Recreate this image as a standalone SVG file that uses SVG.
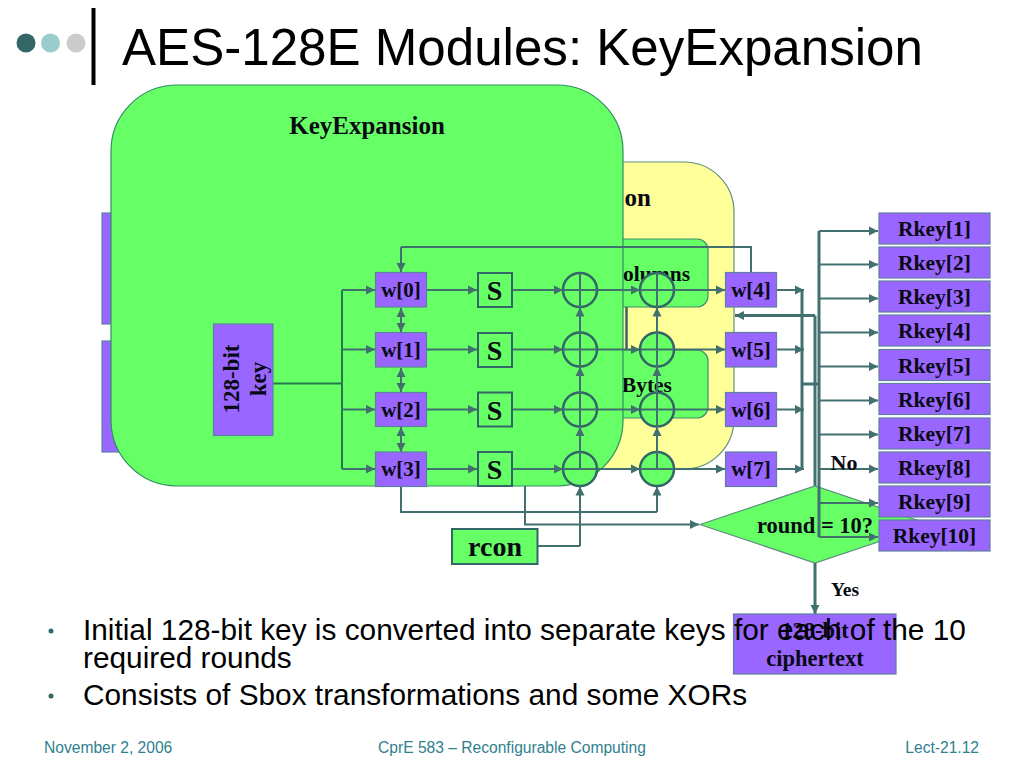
<svg xmlns="http://www.w3.org/2000/svg" width="1024" height="768" viewBox="0 0 1024 768">
<style>
text{font-family:"Liberation Serif","Times New Roman",serif;font-weight:bold;fill:#0a0a14;text-anchor:middle}
.s{font-family:"Liberation Sans",Arial,sans-serif;font-weight:normal;text-anchor:start;fill:#000}
.f{font-family:"Liberation Sans",Arial,sans-serif;font-weight:normal;font-size:15.600px;fill:#2f7f8f;text-anchor:start}
.p{fill:#9966ff;stroke:#5f7f9f;stroke-width:1.2}
.g{fill:#66ff66;stroke:#336666;stroke-width:2}
.l{fill:none;stroke:#41706f;stroke-width:2}
.t{fill:none;stroke:#41706f;stroke-width:3}
.a{marker-end:url(#ah)}
.b{marker-start:url(#ahs);marker-end:url(#ah)}
.k{font-size:21px}
.r{font-size:21.500px}
.m{font-size:22.500px}
</style>
<defs>
<marker id="ah" markerUnits="userSpaceOnUse" markerWidth="10" markerHeight="10" refX="9" refY="5" orient="auto"><path d="M0 .5L9 5L0 9.5z" fill="#41706f"/></marker>
<marker id="ahs" markerUnits="userSpaceOnUse" markerWidth="10" markerHeight="10" refX="9" refY="5" orient="auto-start-reverse"><path d="M0 .5L9 5L0 9.5z" fill="#41706f"/></marker>
</defs>
<g id="template">
<circle cx="26" cy="43" r="9.5" fill="#336666"/>
<circle cx="50.500" cy="43" r="9.500" fill="#99cccc"/>
<circle cx="76" cy="43" r="9.500" fill="#cccccc"/>
<rect x="91.500" y="8" width="4" height="77" fill="#000"/>
<text class="s" x="122" y="65" font-size="51.100">AES-128E Modules: KeyExpansion</text>
</g>
<g id="hidden-round">
<rect x="300" y="162" width="434" height="307" rx="50" fill="#ffff99" stroke="#5f8f7f" stroke-width="1.200"/>
<text x="651" y="206" font-size="25" style="text-anchor:end">on</text>
<rect x="400" y="239" width="308" height="68" rx="11" fill="#66ff66" stroke="#3f8f6f" stroke-width="1.200"/>
<text x="690" y="281" font-size="21.500" style="text-anchor:end">olumns</text>
<rect x="400" y="350" width="308" height="68" rx="11" fill="#66ff66" stroke="#3f8f6f" stroke-width="1.200"/>
<text x="672" y="392" font-size="21.500" style="text-anchor:end">Bytes</text>
<path d="M626.500 307V350" stroke="#336666" stroke-width="2.500"/>
</g>
<g id="hidden-left">
<rect class="p" x="102" y="213" width="30" height="111"/>
<rect class="p" x="102" y="341" width="30" height="111"/>
</g>
<g id="keyexpansion">
<rect x="111" y="85" width="512" height="401" rx="66" fill="#66ff66" stroke="#2f8f5f" stroke-width="1.200"/>
<text x="367" y="134" font-size="25">KeyExpansion</text>
</g>
<g id="connectors">
<path class="l" d="M751 272V247H401" />
<path class="l a" d="M401 247V272"/>
<path class="l" d="M273 383.500H342" style="stroke:#257a4c"/>
<path class="l" d="M342 290V469" style="stroke:#257a4c"/>
<path class="l a" d="M342 290H375"/><path class="l a" d="M342 349.500H375"/><path class="l a" d="M342 409.500H375"/><path class="l a" d="M342 469H375"/>
<path class="l b" d="M401 308V332"/><path class="l b" d="M401 368V392"/><path class="l b" d="M401 427V452"/>
<path class="l a" d="M427 290H477"/><path class="l a" d="M427 349.500H477"/><path class="l a" d="M427 409.500H477"/><path class="l a" d="M427 469H477"/>
<path class="l a" d="M513 290H563"/><path class="l a" d="M513 349.500H563"/><path class="l a" d="M513 409.500H563"/><path class="l a" d="M513 469H563"/>
<path class="l a" d="M597 290H640"/><path class="l a" d="M597 349.500H640"/><path class="l a" d="M597 409.500H640"/><path class="l a" d="M597 469H640"/>
<path class="l a" d="M674 290H725"/><path class="l a" d="M674 349.500H725"/><path class="l a" d="M674 409.500H725"/><path class="l a" d="M674 469H725"/>
<path class="l" d="M537 546H580"/>
<path class="l" d="M401 486V512H657"/>
<path class="l a" d="M525 486V524.500H699"/>
<path class="l a" d="M777 290H804"/><path class="l a" d="M777 349.500H804"/><path class="l a" d="M777 409.500H804"/><path class="l a" d="M777 469H804"/>
<path class="t" d="M802 290V469"/>
<path class="t" d="M802 384H819"/>
<path class="t" d="M815 487V315.500"/>
<path class="t a" d="M815 315.500H735"/>
</g>
<g id="round-check">
<path d="M700 524.500L815 486L930 524.500L815 563Z" fill="#66ff66" stroke="#5f8f7f" stroke-width="1.200"/>
<text class="m" x="815" y="533">round = 10?</text>
</g>
<g id="rkey-bus">
<path class="t" d="M819 231V537"/>
<path class="l a" d="M819 231H878"/><path class="l a" d="M819 264.500H878"/><path class="l a" d="M819 298.500H878"/><path class="l a" d="M819 332.500H878"/><path class="l a" d="M819 366.500H878"/><path class="l a" d="M819 400.500H878"/><path class="l a" d="M819 434.500H878"/><path class="l a" d="M819 469H878"/><path class="l a" d="M819 503H878"/><path class="l a" d="M819 537H878"/>
<path class="t a" d="M815 563V614"/>
</g>
<g id="key128"><rect class="p" x="213.500" y="324" width="59.500" height="111.500"/>
<text font-size="23" transform="translate(238.500 379) rotate(-90)">128-bit</text>
<text font-size="23" transform="translate(266 379) rotate(-90)">key</text></g>
<g id="w0"><rect class="p" x="375.500" y="272.500" width="51" height="34.500"/><text class="k" x="401" y="297">w[0]</text></g>
<g id="w1"><rect class="p" x="375.500" y="332.500" width="51" height="34.500"/><text class="k" x="401" y="357">w[1]</text></g>
<g id="w2"><rect class="p" x="375.500" y="392.500" width="51" height="34"/><text class="k" x="401" y="417">w[2]</text></g>
<g id="w3"><rect class="p" x="375.500" y="452" width="51" height="34.500"/><text class="k" x="401" y="476">w[3]</text></g>
<g id="w4"><rect class="p" x="725.500" y="272.500" width="51" height="34.500"/><text class="k" x="751" y="297">w[4]</text></g>
<g id="w5"><rect class="p" x="725.500" y="332.500" width="51" height="34.500"/><text class="k" x="751" y="357">w[5]</text></g>
<g id="w6"><rect class="p" x="725.500" y="392.500" width="51" height="34"/><text class="k" x="751" y="417">w[6]</text></g>
<g id="w7"><rect class="p" x="725.500" y="452" width="51" height="34.500"/><text class="k" x="751" y="476">w[7]</text></g>
<g id="s0"><rect class="g" x="478" y="273" width="34" height="34"/><text x="494.500" y="300" font-size="28">S</text></g>
<g id="s1"><rect class="g" x="478" y="333" width="34" height="34"/><text x="494.500" y="360" font-size="28">S</text></g>
<g id="s2"><rect class="g" x="478" y="392.500" width="34" height="34"/><text x="494.500" y="419.500" font-size="28">S</text></g>
<g id="s3"><rect class="g" x="478" y="452" width="34" height="34"/><text x="494.500" y="479" font-size="28">S</text></g>
<g id="rcon"><rect class="g" x="452" y="529" width="85.500" height="35"/><text x="495" y="556" font-size="28">rcon</text></g>
<g id="xors" fill="#66ff66" stroke="#336666" stroke-width="2.500">
<circle cx="580" cy="290" r="17"/><circle cx="580" cy="349.500" r="17"/><circle cx="580" cy="409.500" r="17"/><circle cx="580" cy="469" r="17"/>
<circle cx="657" cy="290" r="17"/><circle cx="657" cy="349.500" r="17"/><circle cx="657" cy="409.500" r="17"/><circle cx="657" cy="469" r="17"/>
</g>
<g id="xor-lines">
<path class="l" d="M563 290H597M563 349.500H597M563 409.500H597M563 469H597M640 290H674M640 349.500H674M640 409.500H674M640 469H674"/>
<path class="l a" d="M580 332V307.500"/><path class="l a" d="M580 392V367"/><path class="l a" d="M580 452V427"/><path class="l a" d="M580 546V486.500"/>
<path class="l a" d="M657 332V307.500"/><path class="l a" d="M657 392V367"/><path class="l a" d="M657 452V427"/><path class="l a" d="M657 512V486.500"/>
<path class="l" d="M580 273V469M657 273V469"/>
</g>
<g id="rkey1"><rect class="p" x="879" y="213" width="111" height="31"/><text class="r" x="934.500" y="236">Rkey[1]</text></g>
<g id="rkey2"><rect class="p" x="879" y="247" width="111" height="31"/><text class="r" x="934.500" y="270">Rkey[2]</text></g>
<g id="rkey3"><rect class="p" x="879" y="281" width="111" height="31"/><text class="r" x="934.500" y="304">Rkey[3]</text></g>
<g id="rkey4"><rect class="p" x="879" y="315" width="111" height="31"/><text class="r" x="934.500" y="338">Rkey[4]</text></g>
<g id="rkey5"><rect class="p" x="879" y="349.500" width="111" height="31"/><text class="r" x="934.500" y="372.500">Rkey[5]</text></g>
<g id="rkey6"><rect class="p" x="879" y="383.500" width="111" height="31"/><text class="r" x="934.500" y="406.500">Rkey[6]</text></g>
<g id="rkey7"><rect class="p" x="879" y="418" width="111" height="31"/><text class="r" x="934.500" y="441">Rkey[7]</text></g>
<g id="rkey8"><rect class="p" x="879" y="452" width="111" height="31"/><text class="r" x="934.500" y="475">Rkey[8]</text></g>
<g id="rkey9"><rect class="p" x="879" y="486" width="111" height="31"/><text class="r" x="934.500" y="509">Rkey[9]</text></g>
<g id="rkey10"><rect class="p" x="879" y="520" width="111" height="31"/><text class="r" x="934.500" y="543">Rkey[10]</text></g>
<text x="844" y="470" font-size="22">No</text>
<text x="845" y="596" font-size="19.500">Yes</text>
<g id="ciphertext"><rect class="p" x="733.500" y="614" width="162.500" height="60"/>
<text class="m" x="815" y="638">128-bit</text><text class="m" x="815" y="666">ciphertext</text></g>
<g id="bullets">
<circle cx="51" cy="631" r="2.500" fill="#336666"/>
<text class="s" x="83" y="640" font-size="29.800">Initial 128-bit key is converted into separate keys for each of the 10</text>
<text class="s" x="83" y="668" font-size="29.800">required rounds</text>
<circle cx="51" cy="696" r="2.500" fill="#336666"/>
<text class="s" x="83" y="705" font-size="29.800">Consists of Sbox transformations and some XORs</text>
</g>
<g id="footer">
<text class="f" x="44" y="753">November 2, 2006</text>
<text class="f" x="512" y="753" style="text-anchor:middle">CprE 583 – Reconfigurable Computing</text>
<text class="f" x="979" y="753" style="text-anchor:end">Lect-21.12</text>
</g>
</svg>
